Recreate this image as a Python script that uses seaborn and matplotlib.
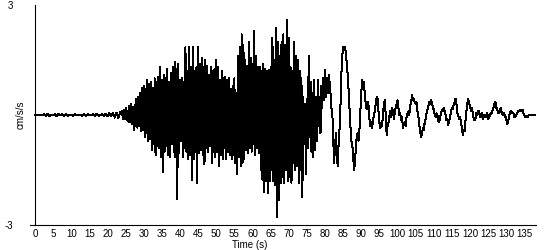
import numpy as np
import pandas as pd
import matplotlib
matplotlib.use("Agg")
import matplotlib.pyplot as plt
import seaborn as sns

# ---- data (cm/s/s) ----
# quiet pre-event noise, 0 .. 23.5 s every 0.5 s
quiet_start, quiet_dt = 0.0, 0.5
quiet = [0.0, 0.0, 0.01, -0.01, 0.0, 0.02, -0.02, 0.03,
         -0.03, 0.01, 0.0, 0.02, -0.03, 0.03, -0.01, 0.02,
         -0.03, 0.03, -0.02, 0.01, 0.0, -0.02, 0.02, -0.01,
         0.01, 0.0, -0.02, 0.03, -0.03, 0.02, -0.01, 0.0,
         0.02, -0.03, 0.03, -0.02, 0.0, 0.02, -0.03, 0.04,
         -0.04, 0.05, -0.04, 0.06, -0.07, 0.06, -0.08, 0.09]

# strong shaking, 24 .. 81.75 s every 0.25 s
strong_start, strong_dt = 24.0, 0.25
strong = [
    0.10, -0.12, 0.15, -0.10, 0.20, -0.15, 0.12, -0.18,
    0.25, -0.20, 0.30, -0.25, 0.22, -0.40, 0.28, -0.30,
    0.45, -0.35, 0.50, -0.30, 0.60, -0.45, 0.75, -0.40,
    0.80, -0.60, 0.70, -0.50, 0.95, -0.70, 0.85, -0.65,
    0.90, -0.95, 0.75, -0.80, 1.00, -1.10, 0.90, -0.85,
    1.05, -0.90, 1.30, -1.15, 0.95, -1.55, 1.10, -1.00,
    1.00, -0.85, 1.25, -1.10, 0.90, -1.15, 1.15, -0.80,
    1.30, -1.00, 1.45, -1.15, 1.25, -2.30, 1.40, -1.05,
    0.95, -0.70, 1.00, -1.15, 0.90, -0.90, 1.85, -1.00,
    1.20, -1.20, 1.85, -1.10, 1.30, -1.77, 1.85, -1.20,
    1.20, -1.00, 1.30, -1.85, 1.85, -1.05, 1.40, -0.95,
    1.55, -1.10, 1.30, -1.35, 1.50, -0.90, 1.35, -1.00,
    1.10, -0.85, 1.30, -1.30, 1.20, -1.00, 1.25, -1.15,
    1.50, -1.00, 1.30, -1.40, 0.95, -1.10, 1.20, -1.20,
    1.00, -0.90, 1.05, -1.20, 0.95, -1.00, 1.00, -1.10,
    0.70, -1.20, 0.80, -1.10, 1.00, -1.30, 0.60, -1.60,
    1.60, -1.15, 1.85, -1.40, 2.20, -1.30, 1.90, -1.20,
    1.50, -0.95, 1.35, -1.05, 2.00, -0.90, 1.55, -1.00,
    1.40, -0.80, 2.30, -1.10, 1.60, -0.90, 1.30, -1.05,
    1.30, -1.50, 1.20, -1.77, 1.40, -2.10, 1.25, -1.80,
    1.20, -2.13, 1.23, -1.80, 1.30, -1.50, 2.10, -1.80,
    1.50, -1.90, 2.37, -2.78, 2.00, -2.32, 1.60, -1.85,
    2.00, -1.70, 2.20, -1.85, 1.90, -1.50, 2.60, -1.80,
    2.10, -1.70, 1.30, -1.85, 1.20, -1.30, 2.00, -1.50,
    1.60, -1.40, 1.50, -1.85, 1.20, -1.50, 1.00, -2.23,
    0.50, -0.80, 0.30, -1.60, 0.45, -0.90, 1.60, -0.60,
    0.90, -1.00, 0.60, -1.15, 0.95, -0.95, 0.50, -0.70,
    0.95, -0.30, 0.50, -0.50, 0.80, 0.20, 1.00, 0.40,
    1.23, 0.50, 1.00, 0.60, 1.10, 0.90, 0.60, 0.20,
]

# coda, 82 .. 138 s every 0.25 s
coda_start, coda_dt = 82.0, 0.25
coda = [
    0.10, -0.60, -1.30, -0.90, -0.50, -1.00, -1.40, -0.80,
    -0.40, 0.20, 1.10, 1.60, 1.85, 1.80, 1.85, 1.70,
    1.40, 1.10, 0.70, 0.20, -0.30, -0.70, -0.80, -1.10,
    -1.50, -1.30, -0.90, -0.60, -0.50, -0.70, -0.40, 0.10,
    0.60, 0.95, 0.80, 0.90, 0.50, 0.30, 0.15, 0.35,
    0.25, -0.10, -0.30, -0.20, -0.35, -0.10, -0.05, 0.15,
    0.30, 0.50, 0.45, 0.10, -0.20, -0.35, -0.25, -0.30,
    0.05, 0.30, 0.40, 0.00, -0.55, -0.30, -0.20, -0.05,
    0.10, -0.05, 0.20, 0.10, -0.10, 0.05, 0.20, 0.30,
    0.40, 0.20, 0.00, 0.05, -0.15, -0.05, -0.35, -0.25,
    -0.20, -0.30, -0.05, 0.05, 0.10, 0.00, 0.25, 0.35,
    0.55, 0.40, 0.45, 0.35, 0.30, 0.35, 0.10, -0.05,
    -0.25, -0.45, -0.60, -0.50, -0.35, -0.40, -0.20, -0.10,
    0.05, 0.15, 0.25, 0.35, 0.30, 0.40, 0.35, 0.20,
    0.15, 0.00, -0.05, 0.05, 0.00, -0.15, -0.20, -0.05,
    0.05, 0.15, 0.10, 0.20, 0.10, 0.00, -0.15, -0.10,
    -0.27, -0.15, -0.05, 0.10, 0.20, 0.15, 0.30, 0.35,
    0.45, 0.30, 0.05, 0.00, -0.10, -0.05, -0.20, -0.35,
    -0.55, -0.40, -0.45, -0.15, 0.10, 0.30, 0.45, 0.30,
    0.25, 0.10, 0.20, 0.05, -0.10, -0.15, -0.10, 0.05,
    0.00, 0.10, 0.10, -0.05, 0.00, 0.05, -0.10, 0.00,
    0.00, -0.05, -0.05, 0.05, -0.10, -0.05, 0.00, 0.05,
    0.05, 0.15, 0.20, 0.30, 0.35, 0.20, 0.15, 0.05,
    0.05, 0.10, 0.20, 0.05, 0.00, 0.05, 0.00, -0.05,
    -0.10, -0.25, -0.20, -0.05, 0.05, 0.10, 0.10, 0.05,
    0.05, -0.05, -0.05, 0.00, 0.05, 0.10, 0.10, 0.15,
    0.10, 0.15, 0.15, 0.05, 0.00, -0.05, -0.05, -0.03,
    -0.05, 0.00, 0.00, 0.00, 0.00, 0.00, 0.00, 0.00,
    0.00,
]

x_ticks = list(range(0, 136, 5))
y_ticks = [-3, 3]
y_label = "cm/s/s"
x_label = "Time (s)"

# ---- assemble ----
t = np.concatenate([
    quiet_start + quiet_dt * np.arange(len(quiet)),
    strong_start + strong_dt * np.arange(len(strong)),
    coda_start + coda_dt * np.arange(len(coda)),
])
a = np.concatenate([quiet, strong, coda])
df = pd.DataFrame({"time": t, "acc": a})

sns.set_style("white")
plt.rcParams["font.family"] = ["Liberation Sans", "DejaVu Sans"]
plt.rcParams["font.size"] = 7

fig = plt.figure(figsize=(5.5, 2.5), dpi=100)
ax = fig.add_axes([30 / 550, 1 - 225 / 250, 506 / 550, 220 / 250])

sns.lineplot(data=df, x="time", y="acc", ax=ax, color="black",
             linewidth=0.72, estimator=None, sort=False, antialiased=False)

ax.set_xlim(-1.38, 138.2)
ax.set_ylim(-3, 3)

for s in ("top", "right"):
    ax.spines[s].set_visible(False)
ax.spines["left"].set_position(("data", 0))
for s in ("left", "bottom"):
    ax.spines[s].set_color("black")
    ax.spines[s].set_linewidth(0.8)

ax.set_xticks(x_ticks)
ax.set_xticklabels([str(v) for v in x_ticks])
ax.tick_params(axis="x", direction="out", length=3, width=0.8,
               color="black", pad=0, labelsize=7, labelcolor="black")
ax.set_yticks(y_ticks)
ax.set_yticklabels([str(v) for v in y_ticks])
ax.tick_params(axis="y", length=0, pad=16, labelsize=7, labelcolor="black")

ax.set_xlabel(x_label, fontsize=7, color="black", va="center")
ax.xaxis.set_label_coords(0.435, -0.092)
ax.set_ylabel(y_label, fontsize=7, color="black", va="center")
ax.yaxis.set_label_coords(-0.018, 0.5)

ax.grid(False)
fig.savefig("out.png", dpi=100, facecolor="white")
